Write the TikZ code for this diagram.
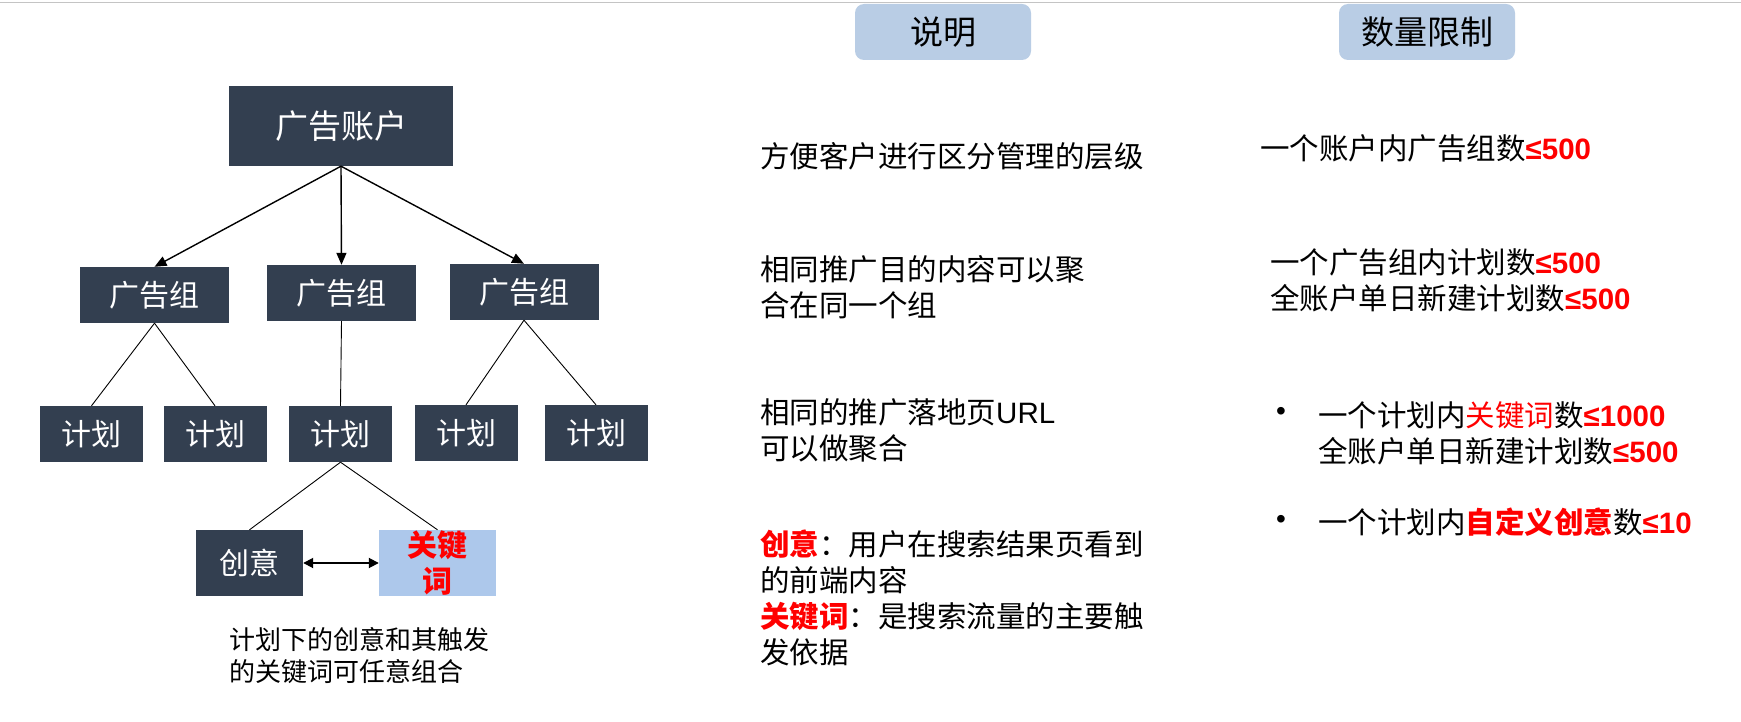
\documentclass[tikz,border=0pt]{standalone}
\usepackage{fontspec}
\setmainfont{Noto Sans CJK SC}
\newfontfamily\lat{Liberation Sans}
\usetikzlibrary{arrows.meta}
\definecolor{darkbox}{HTML}{333F50}
\definecolor{hdrblue}{HTML}{B9CDE5}
\definecolor{kwblue}{HTML}{ADC8EB}
\definecolor{topline}{HTML}{C4C4C4}
\definecolor{redtxt}{HTML}{FF0000}
\newcommand{\redb}[1]{\textcolor{redtxt}{\bfseries #1}}
\newcommand{\rednum}[1]{\textcolor{redtxt}{\lat\bfseries #1}}
\begin{document}
\begin{tikzpicture}[x=1pt,y=-1pt,
  darkn/.style={rectangle, fill=darkbox, text=white, inner sep=0pt, font=\fontsize{30}{30}\selectfont},
  grp/.style={darkn, minimum width=149pt, minimum height=56pt},
  plan/.style={darkn, minimum width=103pt, minimum height=56pt},
  hdr/.style={rectangle, rounded corners=9pt, fill=hdrblue, inner sep=0pt, minimum width=176pt, minimum height=56pt, font=\fontsize{33}{33}\selectfont},
  txt/.style={inner sep=0pt, font=\fontsize{29.5}{36}\selectfont, align=left},
  bul/.style={inner sep=0pt, font=\lat\fontsize{28}{28}\selectfont},
  arr/.style={line width=1.4pt, -{Triangle[length=12pt,width=10pt]}},
  lnk/.style={line width=0.9pt}
]
\useasboundingbox (0,0) rectangle (1741,722);
\fill[white] (0,0) rectangle (1741,722);
\draw[topline, line width=1.5pt] (0,2.5) -- (1741,2.5);

% headers
\node[hdr] (h1) at (943,32) {说明};
\node[hdr] (h2) at (1427,32) {数量限制};

% tree
\node[darkn, minimum width=224pt, minimum height=80pt, font=\fontsize{33}{33}\selectfont] (acct) at (341,126) {广告账户};
\node[grp] (g1) at (154.5,295) {广告组};
\node[grp] (g2) at (341.5,293) {广告组};
\node[grp] (g3) at (524,292) {广告组};
\node[plan] (p1) at (91.5,434) {计划};
\node[plan] (p2) at (215,434) {计划};
\node[plan] (p3) at (340.5,434) {计划};
\node[plan] (p4) at (466,433) {计划};
\node[plan] (p5) at (596,433) {计划};
\node[darkn, minimum width=107pt, minimum height=66pt] (cy) at (249.5,563) {创意};
\node[rectangle, fill=kwblue, inner sep=0pt, minimum width=117pt, minimum height=66pt,
      text=redtxt, align=center, font=\fontsize{30}{36}\selectfont\bfseries] (kw) at (437.5,563) {关键\\词};

\draw[arr] (acct.south) -- (g1.north);
\draw[arr] (acct.south) -- (g2.north);
\draw[arr] (acct.south) -- (g3.north);
\draw[lnk] (g1.south) -- (p1.north);
\draw[lnk] (g1.south) -- (p2.north);
\draw[lnk] (g2.south) -- (p3.north);
\draw[lnk] (g3.south) -- (p4.north);
\draw[lnk] (g3.south) -- (p5.north);
\draw[lnk] (p3.south) -- (cy.north);
\draw[lnk] (p3.south) -- (kw.north);
\draw[line width=1.8pt, {Triangle[length=10pt,width=10pt]}-{Triangle[length=10pt,width=10pt]}] (cy.east) -- (kw.west);

\node[txt, anchor=west, font=\fontsize{26}{32}\selectfont] (cap) at (229,656) {计划下的创意和其触发\\的关键词可任意组合};

% description column
\node[txt, anchor=west] (d1) at (760,156) {方便客户进行区分管理的层级};
\node[txt, anchor=west] (d2) at (760,287.5) {相同推广目的内容可以聚\\合在同一个组};
\node[txt, anchor=west] (d3) at (760,430) {相同的推广落地页{\lat URL}\\可以做聚合};
\node[txt, anchor=west] (d4) at (760,598) {\redb{创意}：用户在搜索结果页看到\\的前端内容\\\redb{关键词}：是搜索流量的主要触\\发依据};

% limits column
\node[txt, anchor=west] (r1) at (1260,148) {一个账户内广告组数\rednum{≤500}};
\node[txt, anchor=west] (r2) at (1270,280) {一个广告组内计划数\rednum{≤500}\\全账户单日新建计划数\rednum{≤500}};
\node[bul] (b1) at (1281,414) {•};
\node[txt, anchor=west] (r3) at (1318,433) {一个计划内\textcolor{redtxt}{关键词}数\rednum{≤1000}\\全账户单日新建计划数\rednum{≤500}};
\node[bul] (b2) at (1281,522) {•};
\node[txt, anchor=west] (r4) at (1318,522) {一个计划内\redb{自定义创意}数\rednum{≤10}};
\end{tikzpicture}
\end{document}
